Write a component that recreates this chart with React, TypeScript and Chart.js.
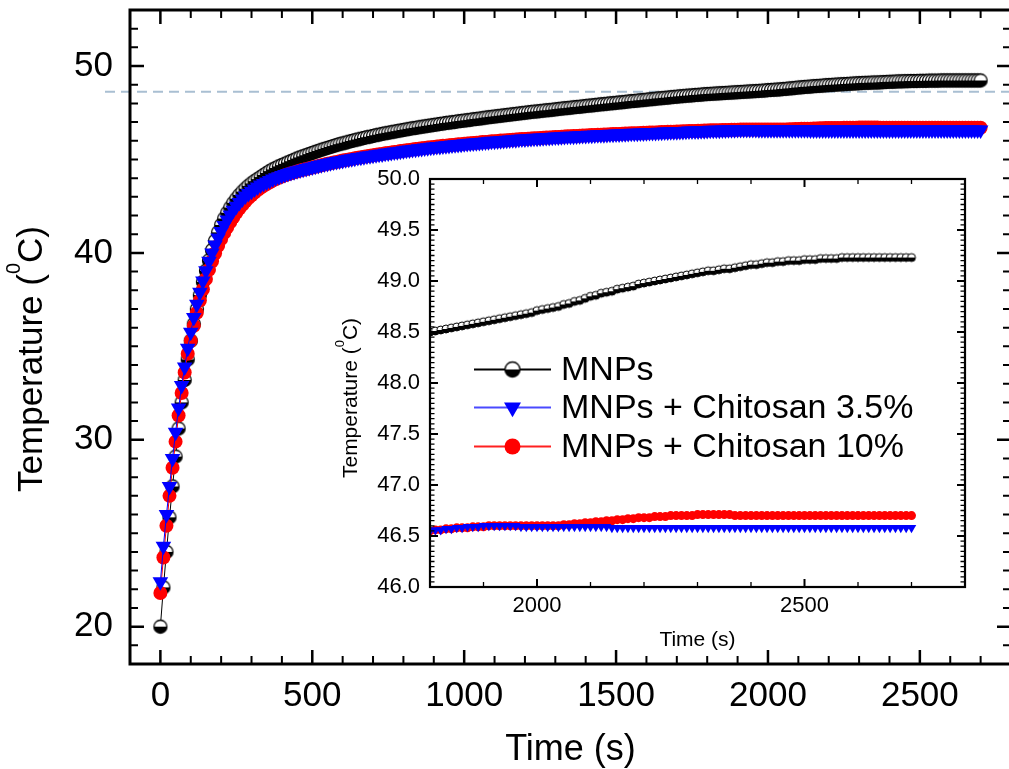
import React, { useEffect, useRef } from 'react';
import { Chart, registerables } from 'chart.js';

Chart.register(...registerables);

// ---- data (one reading every 10 s, t = 0 … 2700 s) ----
const SAMPLE_STEP_S = 10;

const MNPS = [
  20.0, 22.1, 24.0, 25.85, 27.5, 29.1, 30.6, 32.0, 33.2, 34.3,
  35.3, 36.2, 37.0, 37.75, 38.45, 39.05, 39.6, 40.15, 40.65, 41.1,
  41.5, 41.84, 42.15, 42.43, 42.68, 42.9, 43.1, 43.28, 43.44, 43.59,
  43.72, 43.84, 43.95, 44.06, 44.17, 44.28, 44.38, 44.47, 44.55, 44.63,
  44.7, 44.77, 44.84, 44.91, 44.98, 45.05, 45.11, 45.17, 45.23, 45.29,
  45.35, 45.41, 45.46, 45.52, 45.57, 45.62, 45.67, 45.72, 45.77, 45.82,
  45.86, 45.9, 45.95, 45.99, 46.03, 46.07, 46.11, 46.15, 46.19, 46.22,
  46.26, 46.3, 46.33, 46.37, 46.4, 46.43, 46.46, 46.49, 46.52, 46.55,
  46.58, 46.61, 46.64, 46.67, 46.69, 46.72, 46.75, 46.77, 46.8, 46.82,
  46.85, 46.87, 46.9, 46.92, 46.95, 46.97, 46.99, 47.01, 47.04, 47.06,
  47.08, 47.1, 47.12, 47.15, 47.17, 47.19, 47.21, 47.24, 47.26, 47.28,
  47.3, 47.32, 47.34, 47.36, 47.38, 47.4, 47.42, 47.44, 47.46, 47.48,
  47.5, 47.52, 47.54, 47.56, 47.57, 47.59, 47.61, 47.63, 47.64, 47.66,
  47.68, 47.7, 47.72, 47.74, 47.75, 47.77, 47.79, 47.81, 47.82, 47.84,
  47.86, 47.88, 47.89, 47.91, 47.93, 47.95, 47.96, 47.98, 48.0, 48.01,
  48.03, 48.05, 48.06, 48.08, 48.1, 48.12, 48.13, 48.15, 48.17, 48.18,
  48.2, 48.22, 48.23, 48.25, 48.27, 48.28, 48.3, 48.31, 48.33, 48.35,
  48.36, 48.38, 48.39, 48.41, 48.42, 48.43, 48.45, 48.46, 48.47, 48.49,
  48.5, 48.51, 48.52, 48.53, 48.54, 48.55, 48.56, 48.57, 48.58, 48.59,
  48.6, 48.61, 48.62, 48.63, 48.64, 48.65, 48.66, 48.67, 48.68, 48.69,
  48.71, 48.72, 48.73, 48.74, 48.75, 48.77, 48.78, 48.8, 48.81, 48.83,
  48.85, 48.86, 48.88, 48.89, 48.9, 48.92, 48.93, 48.94, 48.95, 48.97,
  48.98, 48.99, 49.0, 49.01, 49.02, 49.03, 49.04, 49.05, 49.06, 49.07,
  49.08, 49.09, 49.1, 49.1, 49.11, 49.12, 49.12, 49.13, 49.14, 49.15,
  49.16, 49.16, 49.17, 49.18, 49.18, 49.19, 49.19, 49.2, 49.2, 49.2,
  49.21, 49.21, 49.21, 49.22, 49.22, 49.22, 49.22, 49.23, 49.23, 49.23,
  49.23, 49.23, 49.23, 49.23, 49.23, 49.23, 49.23, 49.23, 49.23, 49.23,
  49.23,
];

const CHITOSAN_3_5 = [
  22.4, 24.3, 26.0, 27.5, 29.0, 30.4, 31.7, 32.9, 33.9, 34.9,
  35.75, 36.55, 37.25, 37.9, 38.5, 39.05, 39.55, 40.0, 40.42, 40.8,
  41.15, 41.47, 41.76, 42.03, 42.28, 42.5, 42.7, 42.88, 43.04, 43.18,
  43.3, 43.42, 43.53, 43.63, 43.72, 43.8, 43.88, 43.95, 44.02, 44.08,
  44.14, 44.2, 44.25, 44.3, 44.35, 44.4, 44.44, 44.48, 44.52, 44.56,
  44.6, 44.64, 44.68, 44.72, 44.76, 44.79, 44.82, 44.86, 44.89, 44.92,
  44.95, 44.98, 45.01, 45.04, 45.07, 45.1, 45.12, 45.15, 45.18, 45.2,
  45.23, 45.25, 45.28, 45.3, 45.33, 45.35, 45.37, 45.4, 45.42, 45.44,
  45.47, 45.49, 45.51, 45.53, 45.55, 45.57, 45.59, 45.61, 45.63, 45.65,
  45.67, 45.69, 45.7, 45.72, 45.74, 45.75, 45.77, 45.79, 45.8, 45.82,
  45.84, 45.85, 45.87, 45.88, 45.9, 45.91, 45.92, 45.94, 45.95, 45.97,
  45.98, 45.99, 46.0, 46.02, 46.03, 46.04, 46.05, 46.06, 46.08, 46.09,
  46.1, 46.11, 46.12, 46.13, 46.14, 46.15, 46.16, 46.17, 46.18, 46.19,
  46.2, 46.21, 46.22, 46.23, 46.24, 46.25, 46.25, 46.26, 46.27, 46.28,
  46.29, 46.3, 46.3, 46.31, 46.32, 46.33, 46.33, 46.34, 46.35, 46.35,
  46.36, 46.37, 46.38, 46.38, 46.39, 46.4, 46.4, 46.41, 46.42, 46.42,
  46.43, 46.44, 46.44, 46.45, 46.46, 46.46, 46.47, 46.47, 46.48, 46.48,
  46.49, 46.5, 46.5, 46.51, 46.52, 46.52, 46.53, 46.53, 46.54, 46.54,
  46.55, 46.56, 46.56, 46.57, 46.57, 46.58, 46.58, 46.59, 46.59, 46.59,
  46.6, 46.6, 46.6, 46.6, 46.6, 46.6, 46.6, 46.59, 46.59, 46.59,
  46.59, 46.59, 46.59, 46.59, 46.59, 46.59, 46.59, 46.59, 46.59, 46.59,
  46.59, 46.59, 46.59, 46.59, 46.58, 46.58, 46.58, 46.58, 46.58, 46.58,
  46.58, 46.58, 46.58, 46.58, 46.58, 46.58, 46.58, 46.58, 46.58, 46.58,
  46.58, 46.58, 46.58, 46.58, 46.58, 46.58, 46.58, 46.58, 46.58, 46.58,
  46.58, 46.58, 46.58, 46.58, 46.58, 46.58, 46.58, 46.58, 46.58, 46.58,
  46.58, 46.58, 46.58, 46.58, 46.58, 46.58, 46.58, 46.58, 46.58, 46.58,
  46.58, 46.58, 46.58, 46.58, 46.58, 46.58, 46.58, 46.58, 46.58, 46.58,
  46.58,
];

const CHITOSAN_10 = [
  21.8, 23.7, 25.4, 27.0, 28.5, 29.9, 31.3, 32.5, 33.6, 34.6,
  35.3, 36.1, 36.8, 37.45, 38.05, 38.6, 39.1, 39.55, 39.98, 40.38,
  40.74, 41.07, 41.37, 41.65, 41.91, 42.15, 42.37, 42.57, 42.76, 42.93,
  43.09, 43.23, 43.36, 43.48, 43.59, 43.69, 43.78, 43.87, 43.95, 44.02,
  44.09, 44.15, 44.21, 44.26, 44.31, 44.36, 44.41, 44.45, 44.49, 44.53,
  44.57, 44.61, 44.65, 44.69, 44.73, 44.77, 44.8, 44.84, 44.87, 44.9,
  44.94, 44.97, 45.0, 45.03, 45.06, 45.09, 45.12, 45.15, 45.17, 45.2,
  45.23, 45.25, 45.28, 45.3, 45.33, 45.35, 45.38, 45.4, 45.42, 45.45,
  45.47, 45.49, 45.51, 45.54, 45.56, 45.58, 45.6, 45.62, 45.64, 45.66,
  45.67, 45.69, 45.71, 45.73, 45.74, 45.76, 45.78, 45.79, 45.81, 45.82,
  45.84, 45.86, 45.87, 45.88, 45.9, 45.91, 45.93, 45.94, 45.95, 45.97,
  45.98, 45.99, 46.01, 46.02, 46.03, 46.04, 46.05, 46.07, 46.08, 46.09,
  46.1, 46.11, 46.12, 46.13, 46.14, 46.15, 46.16, 46.17, 46.18, 46.19,
  46.2, 46.21, 46.22, 46.23, 46.24, 46.25, 46.26, 46.26, 46.27, 46.28,
  46.29, 46.3, 46.31, 46.31, 46.32, 46.33, 46.34, 46.34, 46.35, 46.36,
  46.36, 46.37, 46.38, 46.39, 46.39, 46.4, 46.41, 46.41, 46.42, 46.43,
  46.43, 46.44, 46.45, 46.45, 46.46, 46.47, 46.47, 46.48, 46.48, 46.49,
  46.5, 46.5, 46.51, 46.51, 46.52, 46.53, 46.53, 46.54, 46.54, 46.55,
  46.55, 46.56, 46.56, 46.57, 46.57, 46.58, 46.58, 46.58, 46.59, 46.59,
  46.59, 46.6, 46.6, 46.6, 46.6, 46.6, 46.6, 46.6, 46.6, 46.6,
  46.6, 46.6, 46.6, 46.6, 46.6, 46.61, 46.61, 46.62, 46.62, 46.63,
  46.63, 46.64, 46.64, 46.65, 46.65, 46.66, 46.66, 46.67, 46.67, 46.68,
  46.68, 46.68, 46.69, 46.69, 46.69, 46.7, 46.7, 46.7, 46.7, 46.7,
  46.71, 46.71, 46.71, 46.71, 46.71, 46.71, 46.71, 46.7, 46.7, 46.7,
  46.7, 46.7, 46.7, 46.7, 46.7, 46.7, 46.7, 46.7, 46.7, 46.7,
  46.7, 46.7, 46.7, 46.7, 46.7, 46.7, 46.7, 46.7, 46.7, 46.7,
  46.7, 46.7, 46.7, 46.7, 46.7, 46.7, 46.7, 46.7, 46.7, 46.7,
  46.7,
];

const SERIES_LABELS = ['MNPs', 'MNPs + Chitosan 3.5%', 'MNPs + Chitosan 10%'];
const MAIN_X_TICKS = [0, 500, 1000, 1500, 2000, 2500];
const MAIN_Y_TICKS = [20, 30, 40, 50];
const INSET_X_TICKS = [2000, 2500];
const INSET_Y_TICKS = [46.0, 46.5, 47.0, 47.5, 48.0, 48.5, 49.0, 49.5, 50.0];
const REFERENCE_TEMP = 48.63;
const X_TITLE = 'Time (s)';
const Y_TITLE_PARTS = ['Temperature (', '0', 'C)'];

const FONT = '"Liberation Sans", Arial, Helvetica, sans-serif';

const toPoints = (values: number[]) => values.map((v, i) => ({ x: i * SAMPLE_STEP_S, y: v }));

function halfCircle(d: number, lw: number): HTMLCanvasElement {
  const s = Math.ceil(d + lw * 2 + 2);
  const c = document.createElement('canvas');
  c.width = s;
  c.height = s;
  const ctx = c.getContext('2d')!;
  const cx = s / 2, cy = s / 2, r = d / 2;
  ctx.beginPath();
  ctx.arc(cx, cy, r, 0, Math.PI * 2);
  ctx.fillStyle = '#ffffff';
  ctx.fill();
  ctx.beginPath();
  ctx.arc(cx, cy, r, 0, Math.PI);
  ctx.closePath();
  ctx.fillStyle = '#000000';
  ctx.fill();
  ctx.beginPath();
  ctx.arc(cx, cy, r, 0, Math.PI * 2);
  ctx.lineWidth = lw;
  ctx.strokeStyle = '#000000';
  ctx.stroke();
  return c;
}

type FrameCfg = {
  id: string;
  box: number;
  major: number;
  majorW: number;
  minorX: number;
  minorY: number;
  minorW: number;
  xStep: number;
  yStep: number;
  xMajors: number[];
  yMajors: number[];
};

function framePlugin(cfg: FrameCfg) {
  return {
    id: 'frame_' + cfg.id,
    afterDraw(chart: any) {
      const { ctx, chartArea: a } = chart;
      const xs = chart.scales.x;
      const ys = chart.scales.y;
      const isMaj = (v: number, arr: number[]) => arr.some((m) => Math.abs(m - v) < 1e-6);
      ctx.save();
      ctx.strokeStyle = '#000';
      const x0 = Math.ceil(xs.min / cfg.xStep - 1e-9);
      const x1 = Math.floor(xs.max / cfg.xStep + 1e-9);
      for (let k = x0; k <= x1; k++) {
        const v = k * cfg.xStep;
        if (v <= xs.min + 1e-6 || v >= xs.max - 1e-6) continue;
        const p = xs.getPixelForValue(v);
        const maj = isMaj(v, cfg.xMajors);
        const len = maj ? cfg.major : cfg.minorX;
        ctx.lineWidth = maj ? cfg.majorW : cfg.minorW;
        ctx.beginPath();
        ctx.moveTo(p, a.bottom);
        ctx.lineTo(p, a.bottom - len);
        ctx.moveTo(p, a.top);
        ctx.lineTo(p, a.top + len);
        ctx.stroke();
      }
      const y0 = Math.ceil(ys.min / cfg.yStep - 1e-9);
      const y1 = Math.floor(ys.max / cfg.yStep + 1e-9);
      for (let k = y0; k <= y1; k++) {
        const v = k * cfg.yStep;
        if (v <= ys.min + 1e-6 || v >= ys.max - 1e-6) continue;
        const p = ys.getPixelForValue(v);
        const maj = isMaj(v, cfg.yMajors);
        const len = maj ? cfg.major : cfg.minorY;
        ctx.lineWidth = maj ? cfg.majorW : cfg.minorW;
        ctx.beginPath();
        ctx.moveTo(a.left, p);
        ctx.lineTo(a.left + len, p);
        ctx.moveTo(a.right, p);
        ctx.lineTo(a.right - len, p);
        ctx.stroke();
      }
      ctx.lineWidth = cfg.box;
      ctx.strokeRect(a.left, a.top, a.right - a.left, a.bottom - a.top);
      ctx.restore();
    },
  };
}

function yTitlePlugin(id: string, x: number, y: number, size: number, supSize: number, raise: number) {
  return {
    id: 'ytitle_' + id,
    afterDraw(chart: any) {
      const ctx = chart.ctx;
      ctx.save();
      ctx.translate(x, y);
      ctx.rotate(-Math.PI / 2);
      ctx.fillStyle = '#000';
      ctx.textBaseline = 'alphabetic';
      ctx.textAlign = 'left';
      const mainFont = `${size}px ${FONT}`;
      const supFont = `${supSize}px ${FONT}`;
      ctx.font = mainFont;
      const w1 = ctx.measureText(Y_TITLE_PARTS[0]).width;
      const w3 = ctx.measureText(Y_TITLE_PARTS[2]).width;
      ctx.font = supFont;
      const w2 = ctx.measureText(Y_TITLE_PARTS[1]).width;
      const start = -(w1 + w2 + w3) / 2;
      ctx.font = mainFont;
      ctx.fillText(Y_TITLE_PARTS[0], start, 0);
      ctx.font = supFont;
      ctx.fillText(Y_TITLE_PARTS[1], start + w1, -raise);
      ctx.font = mainFont;
      ctx.fillText(Y_TITLE_PARTS[2], start + w1 + w2, 0);
      ctx.restore();
    },
  };
}

const refLinePlugin = {
  id: 'refLine',
  beforeDatasetsDraw(chart: any) {
    const { ctx, width } = chart;
    const y = chart.scales.y.getPixelForValue(REFERENCE_TEMP);
    ctx.save();
    ctx.strokeStyle = '#a9bfd2';
    ctx.lineWidth = 2;
    ctx.setLineDash([10, 6]);
    ctx.beginPath();
    ctx.moveTo(105, y);
    ctx.lineTo(width, y);
    ctx.stroke();
    ctx.restore();
  },
};

function legendPlugin(marker: HTMLCanvasElement) {
  return {
    id: 'insetLegend',
    afterDraw(chart: any) {
      const ctx = chart.ctx;
      const rows = [
        { y: 204.5, kind: 'half', color: '#000000', line: '#000000' },
        { y: 242.5, kind: 'tri', color: '#0000ff', line: '#4a4aff' },
        { y: 281.5, kind: 'circ', color: '#ff0000', line: '#ff2020' },
      ];
      const lx0 = 144, lx1 = 221, mx = 182.5, tx = 231;
      ctx.save();
      rows.forEach((r, i) => {
        ctx.strokeStyle = r.line;
        ctx.lineWidth = 1.8;
        ctx.beginPath();
        ctx.moveTo(lx0, r.y);
        ctx.lineTo(lx1, r.y);
        ctx.stroke();
        if (r.kind === 'half') {
          ctx.drawImage(marker, mx - marker.width / 2, r.y - marker.height / 2);
        } else if (r.kind === 'tri') {
          const rr = 9.8;
          ctx.fillStyle = r.color;
          ctx.beginPath();
          ctx.moveTo(mx - rr * 0.866, r.y - rr / 2);
          ctx.lineTo(mx + rr * 0.866, r.y - rr / 2);
          ctx.lineTo(mx, r.y + rr);
          ctx.closePath();
          ctx.fill();
        } else {
          ctx.fillStyle = r.color;
          ctx.beginPath();
          ctx.arc(mx, r.y, 8, 0, Math.PI * 2);
          ctx.fill();
        }
        ctx.fillStyle = '#000';
        ctx.font = `34px ${FONT}`;
        ctx.textAlign = 'left';
        ctx.textBaseline = 'middle';
        ctx.fillText(chart.data.datasets[i].label, tx, r.y + 1);
      });
      ctx.restore();
    },
  };
}

function makeDatasets(blackMarker: HTMLCanvasElement, triR: number, circR: number, blackR: number) {
  return [
    {
      label: SERIES_LABELS[0],
      data: toPoints(MNPS),
      borderColor: '#000000',
      borderWidth: 1,
      pointStyle: blackMarker as any,
      pointRadius: blackR,
      order: 2,
    },
    {
      label: SERIES_LABELS[1],
      data: toPoints(CHITOSAN_3_5),
      borderColor: '#0000ff',
      borderWidth: 1,
      pointStyle: 'triangle',
      pointRotation: 180,
      pointRadius: triR,
      pointBackgroundColor: '#0000ff',
      pointBorderColor: '#0000ff',
      pointBorderWidth: 0,
      order: 0,
    },
    {
      label: SERIES_LABELS[2],
      data: toPoints(CHITOSAN_10),
      borderColor: '#ff0000',
      borderWidth: 1,
      pointStyle: 'circle',
      pointRadius: circR,
      pointBackgroundColor: '#ff0000',
      pointBorderColor: '#ff0000',
      pointBorderWidth: 0,
      order: 1,
    },
  ];
}

export default function App() {
  const mainRef = useRef<HTMLCanvasElement>(null);
  const insetRef = useRef<HTMLCanvasElement>(null);

  useEffect(() => {
    document.body.style.margin = '0';
    const mainMarker = halfCircle(13, 1.3);
    const insetMarker = halfCircle(8, 1);
    const legendMarker = halfCircle(15, 1.3);

    const main = new Chart(mainRef.current!, {
      type: 'line',
      data: { datasets: makeDatasets(mainMarker, 9, 7, 7) as any },
      options: {
        animation: false,
        responsive: false,
        maintainAspectRatio: false,
        events: [],
        layout: { padding: { top: 10, right: 5, left: 0, bottom: 0 } },
        plugins: { legend: { display: false }, tooltip: { enabled: false } },
        elements: { line: { tension: 0 } },
        scales: {
          x: {
            type: 'linear',
            position: 'bottom',
            min: -100,
            max: 2800,
            grid: { display: false, drawTicks: false },
            border: { display: false },
            afterBuildTicks: (s: any) => { s.ticks = MAIN_X_TICKS.map((v) => ({ value: v })); },
            afterFit: (s: any) => { s.height = 105; s.paddingLeft = 0; s.paddingRight = 0; },
            ticks: {
              color: '#000',
              font: { family: FONT, size: 35 },
              padding: 11,
              maxRotation: 0,
              autoSkip: false,
              callback: (v: any) => String(v),
            },
            title: {
              display: true,
              text: X_TITLE,
              color: '#000',
              font: { family: FONT, size: 36, lineHeight: 1 },
              padding: { top: 0, bottom: 1 },
            },
          },
          y: {
            type: 'linear',
            min: 18,
            max: 53,
            grid: { display: false, drawTicks: false },
            border: { display: false },
            afterBuildTicks: (s: any) => { s.ticks = MAIN_Y_TICKS.map((v) => ({ value: v })); },
            afterFit: (s: any) => { s.width = 130; s.paddingTop = 0; s.paddingBottom = 0; },
            ticks: {
              color: '#000',
              font: { family: FONT, size: 35 },
              padding: 17,
              autoSkip: false,
              callback: (v: any) => String(v),
            },
            title: { display: false },
          },
        },
      } as any,
      plugins: [
        refLinePlugin,
        framePlugin({
          id: 'main', box: 3, major: 14, majorW: 2.5, minorX: 8, minorY: 8, minorW: 2,
          xStep: 100, yStep: 1, xMajors: MAIN_X_TICKS, yMajors: MAIN_Y_TICKS,
        }),
        yTitlePlugin('main', 42, 359, 35, 20, 22),
      ],
    });

    const inset = new Chart(insetRef.current!, {
      type: 'line',
      data: { datasets: makeDatasets(insetMarker, 5.5, 4.5, 4) as any },
      options: {
        animation: false,
        responsive: false,
        maintainAspectRatio: false,
        events: [],
        layout: { padding: { top: 14, right: 15, left: 0, bottom: 0 } },
        plugins: { legend: { display: false }, tooltip: { enabled: false } },
        elements: { line: { tension: 0 } },
        scales: {
          x: {
            type: 'linear',
            position: 'bottom',
            min: 1800,
            max: 2800,
            grid: { display: false, drawTicks: false },
            border: { display: false },
            afterBuildTicks: (s: any) => { s.ticks = INSET_X_TICKS.map((v) => ({ value: v })); },
            afterFit: (s: any) => { s.height = 68; s.paddingLeft = 0; s.paddingRight = 0; },
            ticks: {
              color: '#000',
              font: { family: FONT, size: 22 },
              padding: 6,
              maxRotation: 0,
              autoSkip: false,
              callback: (v: any) => String(v),
            },
            title: {
              display: true,
              text: X_TITLE,
              color: '#000',
              font: { family: FONT, size: 21, lineHeight: 1 },
              padding: { top: 0, bottom: 4 },
            },
          },
          y: {
            type: 'linear',
            min: 46,
            max: 50,
            grid: { display: false, drawTicks: false },
            border: { display: false },
            afterBuildTicks: (s: any) => { s.ticks = INSET_Y_TICKS.map((v) => ({ value: v })); },
            afterFit: (s: any) => { s.width = 100; s.paddingTop = 0; s.paddingBottom = 0; },
            ticks: {
              color: '#000',
              font: { family: FONT, size: 22 },
              padding: 10,
              autoSkip: false,
              callback: (v: any) => Number(v).toFixed(1),
            },
            title: { display: false },
          },
        },
      } as any,
      plugins: [
        framePlugin({
          id: 'inset', box: 2.2, major: 8, majorW: 2, minorX: 5, minorY: 4.5, minorW: 1.3,
          xStep: 100, yStep: 0.05, xMajors: INSET_X_TICKS, yMajors: INSET_Y_TICKS,
        }),
        yTitlePlugin('inset', 27, 233, 21, 13, 13),
        legendPlugin(legendMarker),
      ],
    });

    return () => {
      main.destroy();
      inset.destroy();
    };
  }, []);

  return (
    <div style={{ position: 'relative', width: 1009, height: 769, overflow: 'hidden', background: '#ffffff' }}>
      <canvas
        ref={mainRef}
        width={1020}
        height={769}
        style={{ position: 'absolute', left: 0, top: 0, width: 1020, height: 769 }}
      />
      <canvas
        ref={insetRef}
        width={650}
        height={490}
        style={{ position: 'absolute', left: 330, top: 165, width: 650, height: 490 }}
      />
    </div>
  );
}
